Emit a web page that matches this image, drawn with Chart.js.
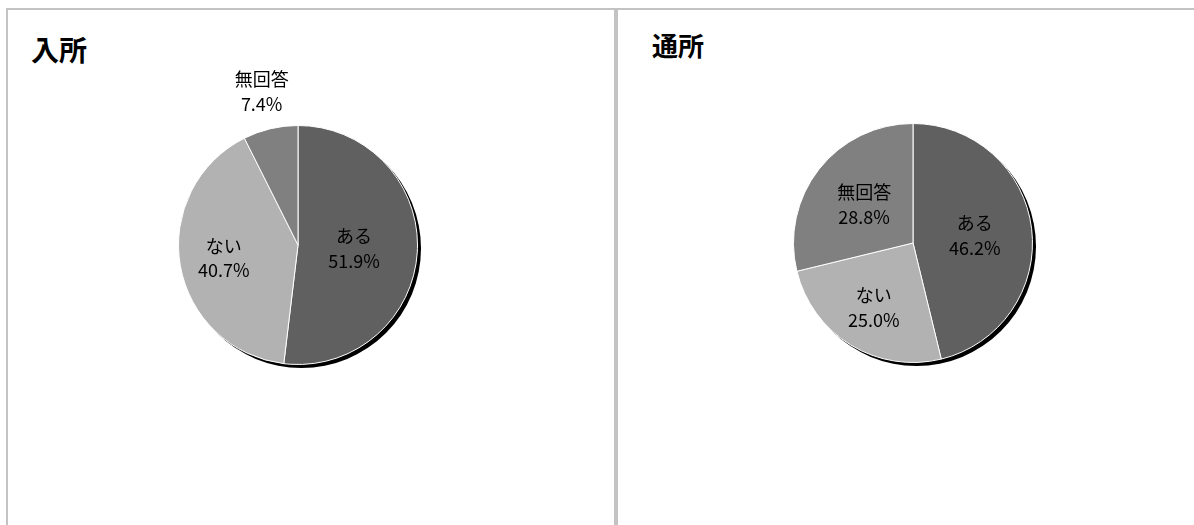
<!DOCTYPE html>
<html>
<head>
<meta charset="utf-8">
<script src="https://cdn.jsdelivr.net/npm/chart.js@4.4.1/dist/chart.umd.min.js"></script>
<style>
  html, body { margin: 0; padding: 0; background: #fff; }
  body { width: 1194px; height: 525px; position: relative; overflow: hidden; }
  .panel { position: absolute; border: 2px solid #c3c3c3; box-sizing: border-box; }
  .title { position: absolute; font-family: "Noto Sans CJK JP", sans-serif; font-weight: 700; color: #000; line-height: 1; white-space: nowrap; }
  .box { position: absolute; width: 400px; height: 400px; }
</style>
</head>
<body>
<div class="panel" style="left:6px; top:8px; width:610px; height:560px;"></div>
<div class="panel" style="left:616px; top:8px; width:620px; height:560px;"></div>
<div class="title" id="t1" style="left:31px; top:35px; font-size:28px;"></div>
<div class="title" id="t2" style="left:652px; top:32px; font-size:26px;"></div>
<div class="box" style="left:98px; top:45px;"><canvas id="c1" width="400" height="400"></canvas></div>
<div class="box" style="left:713px; top:43px;"><canvas id="c2" width="400" height="400"></canvas></div>
<script>
// ---- data ----
const titles = ["入所", "通所"];
const categories = ["ある", "ない", "無回答"];
const nyushoValues = [51.9, 40.7, 7.4];
const tsushoValues = [46.2, 25.0, 28.8];
const sliceColors = ["#606060", "#b2b2b2", "#808080"];

document.getElementById('t1').textContent = titles[0];
document.getElementById('t2').textContent = titles[1];

const shadowPlugin = {
  id: 'pieShadow',
  beforeDatasetsDraw(chart) {
    const meta = chart.getDatasetMeta(0);
    if (!meta.data.length) return;
    const a = meta.data[0];
    const ctx = chart.ctx;
    ctx.save();
    ctx.fillStyle = '#000';
    ctx.beginPath();
    ctx.arc(a.x + 3.5, a.y + 3.5, a.outerRadius, 0, Math.PI * 2);
    ctx.fill();
    ctx.restore();
  }
};

const labelPlugin = {
  id: 'sliceLabels',
  afterDatasetsDraw(chart, args, opts) {
    const meta = chart.getDatasetMeta(0);
    const ds = chart.data.datasets[0];
    const ctx = chart.ctx;
    ctx.save();
    ctx.font = '18px "Noto Sans CJK JP", sans-serif';
    ctx.fillStyle = '#000';
    ctx.textAlign = 'center';
    ctx.textBaseline = 'middle';
    meta.data.forEach((arc, i) => {
      const mid = (arc.startAngle + arc.endAngle) / 2;
      const f = opts.radial[i];
      const cx = arc.x + Math.cos(mid) * arc.outerRadius * f;
      const cy = arc.y + Math.sin(mid) * arc.outerRadius * f;
      ctx.fillText(chart.data.labels[i], cx, cy - 12);
      ctx.fillText(ds.data[i].toFixed(1) + '%', cx, cy + 12.5);
    });
    ctx.restore();
  }
};

function makePie(id, values, radial) {
  new Chart(document.getElementById(id), {
    type: 'pie',
    data: {
      labels: categories,
      datasets: [{
        data: values,
        backgroundColor: sliceColors,
        borderColor: '#ffffff',
        borderWidth: 1,
        radius: 119.5
      }]
    },
    options: {
      responsive: false,
      animation: false,
      events: [],
      layout: { padding: 0 },
      plugins: {
        legend: { display: false },
        tooltip: { enabled: false },
        title: { display: false },
        sliceLabels: { radial: radial }
      }
    },
    plugins: [shadowPlugin, labelPlugin]
  });
}

makePie('c1', nyushoValues, [0.47, 0.63, 1.32]);
makePie('c2', tsushoValues, [0.52, 0.63, 0.52]);
</script>
</body>
</html>
